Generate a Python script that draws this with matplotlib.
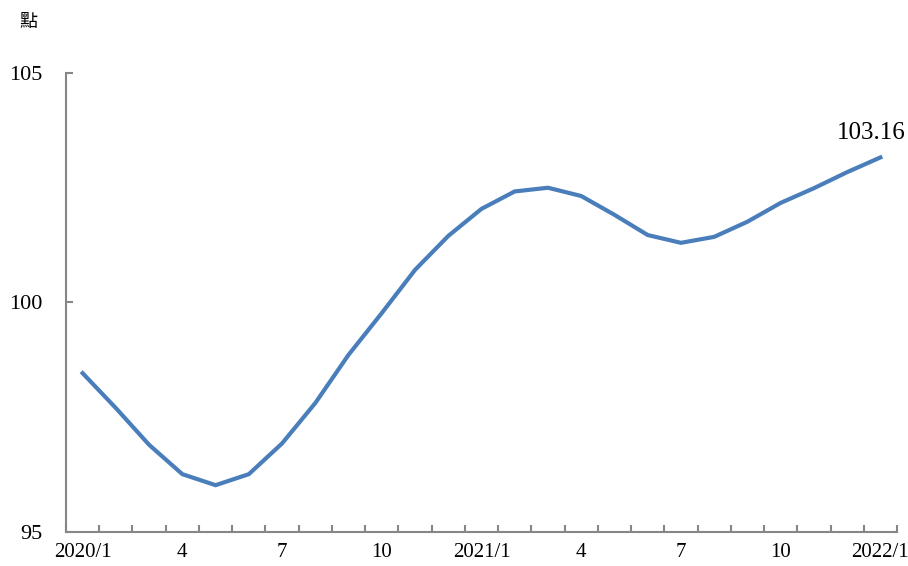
import matplotlib
matplotlib.use("Agg")
import matplotlib.pyplot as plt
import numpy as np

months = ["2020/1", "2", "3", "4", "5", "6", "7", "8", "9", "10", "11", "12",
          "2021/1", "2", "3", "4", "5", "6", "7", "8", "9", "10", "11", "12", "2022/1"]
values = [98.46, 97.70, 96.90, 96.26, 96.02, 96.26, 96.93, 97.81, 98.86, 99.77,
          100.71, 101.45, 102.04, 102.42, 102.50, 102.32, 101.91, 101.47, 101.30,
          101.43, 101.76, 102.17, 102.49, 102.84, 103.16]
shown_labels = {0: "2020/1", 3: "4", 6: "7", 9: "10", 12: "2021/1", 15: "4",
                18: "7", 21: "10", 24: "2022/1"}
yticks = [95, 100, 105]

plt.rcParams['font.family'] = ['Liberation Serif', 'Noto Sans CJK TC']

fig = plt.figure(figsize=(9.08, 5.66), dpi=100)
ax = fig.add_axes([66/908, 1-532/566, (897-66)/908, (532-73)/566])

x = np.arange(len(values))
ax.plot(x, values, color='#4a7ebb', lw=3, solid_joinstyle='miter')

ax.set_xlim(-0.5, len(values) - 0.5)
ax.set_ylim(95, 105)

gray = '#868686'
for s in ['top', 'right']:
    ax.spines[s].set_visible(False)
for s in ['left', 'bottom']:
    ax.spines[s].set_color(gray)
    ax.spines[s].set_linewidth(1.5)

ax.set_yticks(yticks)
ax.set_yticklabels([str(v) for v in yticks], fontsize=16)
ax.tick_params(axis='y', direction='in', length=5, width=1.5, color=gray, pad=17)

idx = sorted(shown_labels)
ax.set_xticks(idx)
ax.set_xticklabels([shown_labels[i] for i in idx], fontsize=15)
ax.tick_params(axis='x', which='major', length=0, pad=8)
ax.set_xticks(np.arange(-0.5, len(values), 1.0), minor=True)
ax.tick_params(axis='x', which='minor', direction='in', length=5, width=1.5, color=gray)

ax.annotate(f"{values[-1]:.2f}", xy=(x[-1], values[-1]), xytext=(-6.5, 10),
            textcoords='offset points', ha='center', va='bottom', fontsize=18)

fig.text(28/908, 1-22/566, "點", fontsize=13, ha='center', va='center',
         family=['Noto Sans CJK TC', 'DejaVu Sans'])

fig.savefig("out.png", dpi=100)
